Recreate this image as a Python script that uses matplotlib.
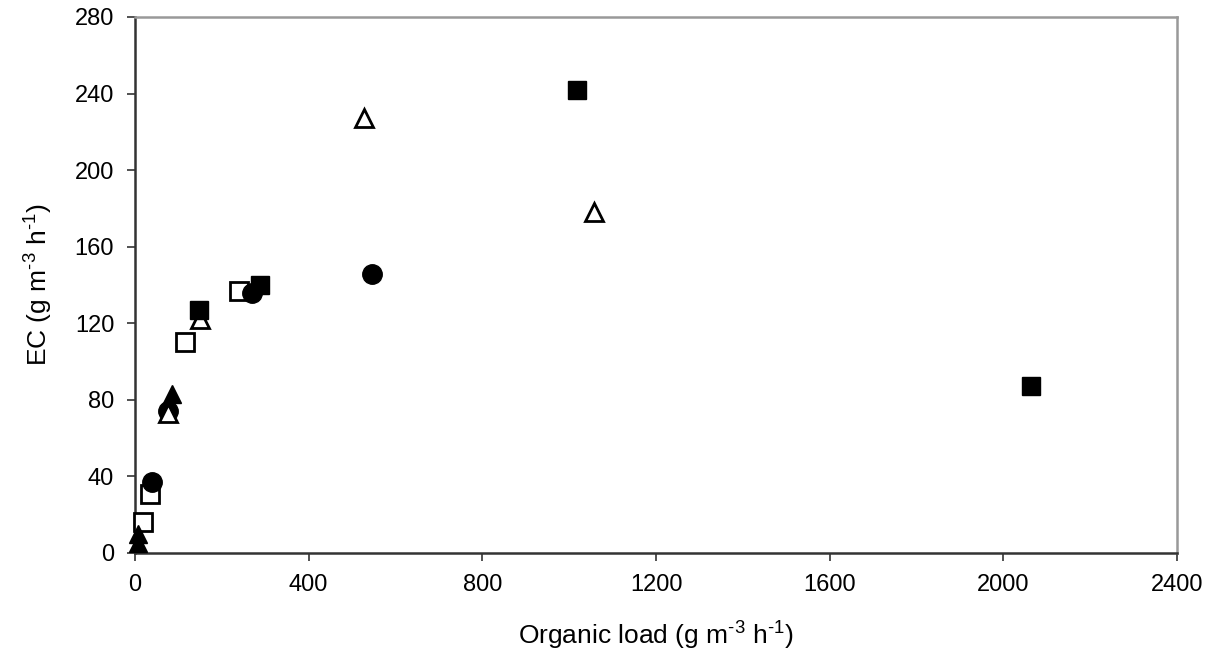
import matplotlib
matplotlib.use("Agg")
import matplotlib.pyplot as plt

plt.rcParams['font.family'] = ['Liberation Sans', 'DejaVu Sans']
plt.rcParams['mathtext.fontset'] = 'custom'
plt.rcParams['mathtext.rm'] = 'Liberation Sans'

# data (organic load, EC)
open_sq_x = [18, 35, 115, 240]
open_sq_y = [16, 31, 110, 137]

circle_x = [40, 77, 270, 545]
circle_y = [37, 74, 136, 146]

open_tri_x = [77, 150, 527, 1058]
open_tri_y = [73, 122, 227, 178]

filled_sq_x = [147, 288, 1017, 2063]
filled_sq_y = [127, 140, 242, 87]

filled_tri_x = [8, 8, 85]
filled_tri_y = [5, 10, 83]

xticks = [0, 400, 800, 1200, 1600, 2000, 2400]
yticks = [0, 40, 80, 120, 160, 200, 240, 280]

fig = plt.figure(figsize=(12.24, 6.61), dpi=100)
ax = fig.add_axes([0.1103, 0.1634, 0.8513, 0.8109])

ms = 13
ax.plot(open_sq_x, open_sq_y, 's', ms=ms, mfc='white', mec='black', mew=2, clip_on=False, zorder=3)
ax.plot(circle_x, circle_y, 'o', ms=ms + 1, mfc='black', mec='black', clip_on=False, zorder=4)
ax.plot(open_tri_x, open_tri_y, '^', ms=ms, mfc='white', mec='black', mew=2, clip_on=False, zorder=5)
ax.plot(filled_sq_x, filled_sq_y, 's', ms=ms, mfc='black', mec='black', clip_on=False, zorder=6)
ax.plot(filled_tri_x, filled_tri_y, '^', ms=ms, mfc='black', mec='black', clip_on=False, zorder=7)

ax.set_xlim(0, 2400)
ax.set_ylim(0, 280)
ax.set_xticks(xticks)
ax.set_yticks(yticks)
ax.tick_params(direction='out', length=6, width=1.2, labelsize=17, colors='#333333', labelcolor='black')
ax.tick_params(axis='y', pad=9)
ax.tick_params(axis='x', pad=9)

for side in ['left', 'bottom']:
    ax.spines[side].set_color('#333333')
    ax.spines[side].set_linewidth(1.8)
for side in ['top', 'right']:
    ax.spines[side].set_color('#999999')
    ax.spines[side].set_linewidth(1.8)

ax.set_xlabel(r'Organic load (g m$^{\text{-3}}$ h$^{\text{-1}}$)', fontsize=19)
ax.set_ylabel(r'EC (g m$^{\text{-3}}$ h$^{\text{-1}}$)', fontsize=19)
ax.xaxis.set_label_coords(0.5, -0.122)
ax.yaxis.set_label_coords(-0.078, 0.5)

fig.savefig('out.png', dpi=100)
